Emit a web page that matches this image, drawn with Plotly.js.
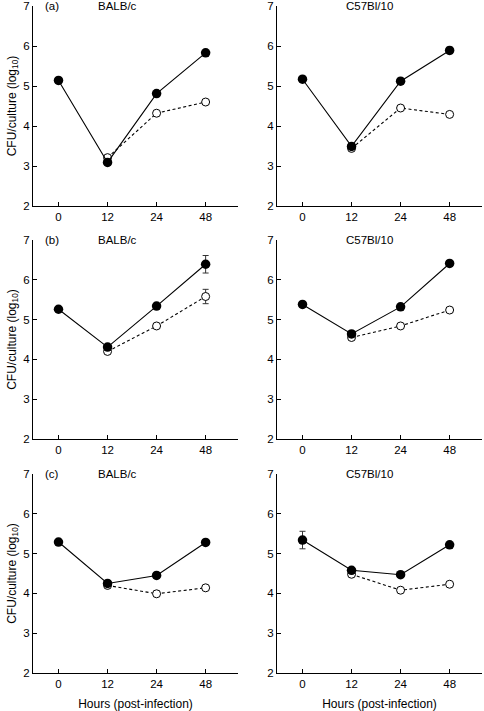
<!DOCTYPE html>
<html>
<head>
<meta charset="utf-8">
<script src="https://cdn.plot.ly/plotly-3.0.1.min.js"></script>
<style>html,body{margin:0;padding:0;background:#fff;}#chart{width:484px;height:711px;}</style>
</head>
<body>
<div id="chart"></div>
<script>
// Time points (hours post-infection)
const hours = ['0', '12', '24', '48'];
const yTicks = [2, 3, 4, 5, 6, 7];

// Panel titles
const panelLetters = ['(a)', '(b)', '(c)'];
const strains = ['BALB/c', 'C57Bl/10'];

// CFU/culture (log10) — filled circles (solid line)
const aBalbFilled = [5.14, 3.09, 4.81, 5.83];
const aC57Filled  = [5.17, 3.49, 5.12, 5.89];
const bBalbFilled = [5.26, 4.31, 5.34, 6.39];
const bC57Filled  = [5.38, 4.64, 5.32, 6.41];
const cBalbFilled = [5.29, 4.25, 4.45, 5.28];
const cC57Filled  = [5.34, 4.58, 4.47, 5.22];

// CFU/culture (log10) — open circles (dashed line)
const aBalbOpen = [null, 3.21, 4.32, 4.60];
const aC57Open  = [null, 3.44, 4.45, 4.29];
const bBalbOpen = [null, 4.20, 4.84, 5.58];
const bC57Open  = [null, 4.55, 4.84, 5.24];
const cBalbOpen = [null, 4.20, 3.99, 4.14];
const cC57Open  = [null, 4.48, 4.08, 4.23];

// Error bars (±)
const aBalbFilledErr = [0, 0, 0, 0];
const aC57FilledErr  = [0, 0, 0, 0.08];
const bBalbFilledErr = [0.05, 0, 0, 0.22];
const bC57FilledErr  = [0, 0, 0, 0];
const cBalbFilledErr = [0, 0, 0, 0];
const cC57FilledErr  = [0.22, 0, 0, 0];
const aBalbOpenErr = [0, 0, 0, 0];
const aC57OpenErr  = [0, 0, 0, 0];
const bBalbOpenErr = [0, 0, 0.04, 0.18];
const bC57OpenErr  = [0, 0, 0, 0];
const cBalbOpenErr = [0, 0, 0.07, 0];
const cC57OpenErr  = [0, 0, 0, 0];

const panels = [
  {filled: aBalbFilled, fErr: aBalbFilledErr, open: aBalbOpen, oErr: aBalbOpenErr},
  {filled: aC57Filled,  fErr: aC57FilledErr,  open: aC57Open,  oErr: aC57OpenErr},
  {filled: bBalbFilled, fErr: bBalbFilledErr, open: bBalbOpen, oErr: bBalbOpenErr},
  {filled: bC57Filled,  fErr: bC57FilledErr,  open: bC57Open,  oErr: bC57OpenErr},
  {filled: cBalbFilled, fErr: cBalbFilledErr, open: cBalbOpen, oErr: cBalbOpenErr},
  {filled: cC57Filled,  fErr: cC57FilledErr,  open: cC57Open,  oErr: cC57OpenErr}
];

const FONT = 'Liberation Sans, Arial, Helvetica, sans-serif';
const traces = [];
panels.forEach((p, i) => {
  const n = i + 1;
  const xa = 'x' + (n === 1 ? '' : n), ya = 'y' + (n === 1 ? '' : n);
  traces.push({
    x: hours, y: p.open, xaxis: xa, yaxis: ya, type: 'scatter', mode: 'lines+markers',
    line: {color: '#000', width: 1.1, dash: '3px,2.5px'},
    marker: {symbol: 'circle', size: 8, color: '#fff', line: {color: '#000', width: 1}},
    error_y: {type: 'data', array: p.oErr, visible: true, color: '#333', thickness: 1, width: 3},
    connectgaps: false, showlegend: false, hoverinfo: 'skip'
  });
  traces.push({
    x: hours, y: p.filled, xaxis: xa, yaxis: ya, type: 'scatter', mode: 'lines+markers',
    line: {color: '#000', width: 1.1},
    marker: {symbol: 'circle', size: 9.5, color: '#000', line: {color: '#000', width: 0}},
    error_y: {type: 'data', array: p.fErr, visible: true, color: '#333', thickness: 1, width: 3},
    showlegend: false, hoverinfo: 'skip'
  });
});

const xDomL = [0, 205 / 449], xDomR = [244 / 449, 1];
const yDoms = [[0.7001, 1], [0.3508, 0.6492], [0, 0.2984]];

const layout = {
  width: 484, height: 711,
  margin: {l: 33, r: 2, t: 6, b: 38},
  paper_bgcolor: '#fff', plot_bgcolor: '#fff',
  font: {family: FONT, size: 11.5, color: '#000'},
  showlegend: false,
  annotations: []
};

for (let i = 0; i < 6; i++) {
  const n = i + 1;
  const row = Math.floor(i / 2), col = i % 2;
  const xKey = 'xaxis' + (n === 1 ? '' : n), yKey = 'yaxis' + (n === 1 ? '' : n);
  const xa = 'x' + (n === 1 ? '' : n), ya = 'y' + (n === 1 ? '' : n);
  layout[xKey] = {
    domain: col === 0 ? xDomL : xDomR, anchor: ya,
    type: 'category', categoryorder: 'array', categoryarray: hours,
    range: [-0.52, 3.66], showline: true, linecolor: '#000', linewidth: 1,
    ticks: 'inside', ticklen: 4, tickcolor: '#000', tickwidth: 1,
    showgrid: false, zeroline: false, fixedrange: true,
    tickfont: {family: FONT, size: 11.5, color: '#000'}
  };
  if (row === 2) {
    layout[xKey].title = {text: 'Hours (post-infection)', font: {family: FONT, size: 12, color: '#000'}, standoff: 10};
  }
  layout[yKey] = {
    domain: yDoms[row], anchor: xa,
    range: [2, 7], tickvals: yTicks, showline: true, linecolor: '#000', linewidth: 1,
    ticks: 'inside', ticklen: 4, tickcolor: '#000', tickwidth: 1,
    showgrid: false, zeroline: false, fixedrange: true,
    tickfont: {family: FONT, size: 11.5, color: '#000'}
  };
  if (col === 0) {
    layout[yKey].title = {text: 'CFU/culture (log<sub>10</sub>)', font: {family: FONT, size: 12, color: '#000'}, standoff: 4};
    layout.annotations.push({
      xref: xa + ' domain', yref: ya + ' domain', x: 0.05, y: 1, xanchor: 'left', yanchor: 'middle',
      text: panelLetters[row], showarrow: false, font: {family: FONT, size: 11.5, color: '#000'}
    });
  }
  layout.annotations.push({
    xref: xa + ' domain', yref: ya + ' domain', x: col === 0 ? 0.41 : 0.45, y: 1, xanchor: 'center', yanchor: 'middle',
    text: strains[col], showarrow: false, font: {family: FONT, size: 11.5, color: '#000'}
  });
}

Plotly.newPlot('chart', traces, layout, {displayModeBar: false, staticPlot: true});
</script>
</body>
</html>
